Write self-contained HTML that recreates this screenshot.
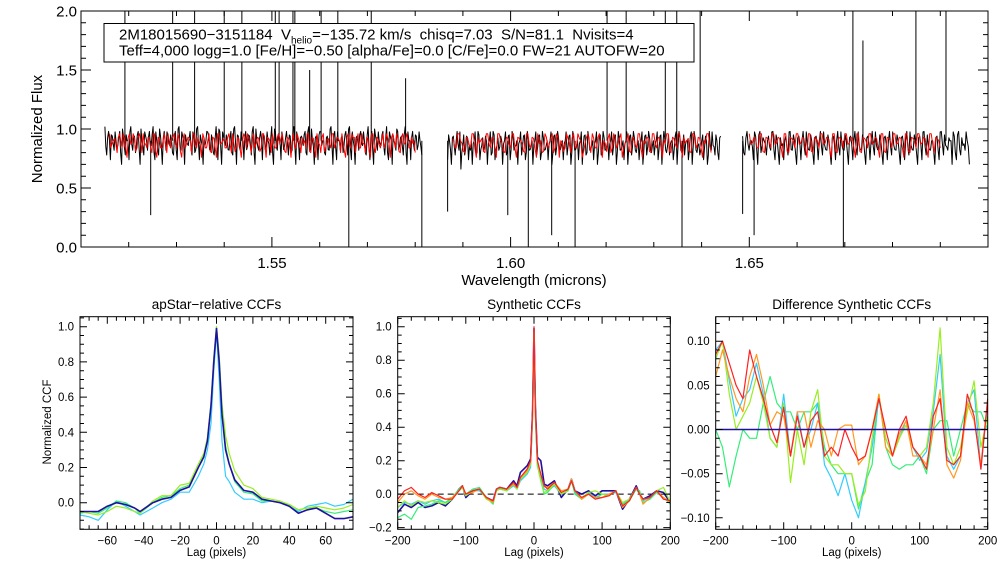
<!DOCTYPE html>
<html><head><meta charset="utf-8">
<style>
html,body{margin:0;padding:0;background:#fff;}
svg{display:block;font-family:"Liberation Sans",Arial,sans-serif;}
</style></head>
<body>
<svg id="fig" width="1008" height="576" viewBox="0 0 1008 576" xmlns="http://www.w3.org/2000/svg">
<rect x="0" y="0" width="1008" height="576" fill="#fff"/>
<g id="top"></g>
<g id="p1"></g>
<g id="p2"></g>
<g id="p3"></g>
</svg>
<script>
// ---------- spectrum data ----------
const chipStart = [1.5150, 1.5868, 1.6486];
const chipEnd   = [1.5814, 1.6440, 1.6961];
const blackDigits = [
"0617253418263705241836251407362815243617052834162507384125360718243516082537142608351724360815273416250837241605382714362508173524160738251436071825341607283514260837152436",
"7382615946275836174528361745283627154836271548362715473826154736281547382615473826154736281547382615473826154637281546372815463728154637281546372",
"2615372814362517384726153827164538271645382716453827164538271645382716453827164538271645382716453827164538"
];
const redStart = [1.5160, 1.5880, 1.6500];
const redEnd   = [1.5800, 1.6420, 1.6900];
const redDigits = [
"1325142613241534251624153214261325143624152613241534261425132416253412352614253415263514241325361425143526152413261425132435",
"2413524163251426135241623514263514251634251426315241632514263152416325142631524163251426315",
"1324152413261524132615241326152413261524132615241326152413261524"
];
const spikeW = [1.5192,1.5246,1.5292,1.5338,1.5400,1.5437,1.5507,1.5515,1.5544,1.5548,1.5579,1.5603,1.5638,1.5661,1.5708,1.5814,1.5994,1.6037,1.6086,1.6135,1.6202,1.6242,1.6324,1.6348,1.6359,1.6397,1.6486,1.6510,1.6697,1.6717,1.6738,1.6849,1.6912,1.5868,1.5780];
const spikeF = [2.0,0.27,2.0,2.0,2.0,2.0,2.0,2.0,2.0,2.0,1.5,2.0,2.0,0.0,2.0,0.0,0.27,0.0,0.1,0.0,2.0,2.0,2.0,2.0,0.0,2.0,0.28,0.1,0.0,2.0,1.75,2.0,2.0,0.3,1.43];

// ---------- CCF data ----------
const lag1 = [-75,-70,-65,-60,-55,-50,-45,-42,-35,-30,-25,-20,-15,-10,-7,-5,-3,-1.5,0,1.5,3,5,7,10,15,20,25,30,35,40,45,50,55,60,65,70,75];
const ccf1Navy = [-0.05,-0.05,-0.05,-0.02,0.0,-0.01,-0.03,-0.05,0.0,0.02,0.03,0.07,0.09,0.2,0.26,0.35,0.55,0.8,0.99,0.8,0.5,0.3,0.22,0.13,0.07,0.06,0.02,0.01,0.0,-0.02,-0.06,-0.04,-0.03,-0.06,-0.09,-0.09,-0.08];
const ccf1Cyan = [-0.07,-0.08,-0.1,-0.04,0.01,-0.02,-0.05,-0.07,-0.03,0.0,0.02,0.06,0.06,0.15,0.22,0.3,0.45,0.75,0.97,0.7,0.35,0.15,0.12,0.06,0.02,0.02,0.0,0.01,0.0,-0.02,-0.05,-0.02,-0.01,0.0,-0.02,-0.01,0.02];
const ccf1Green = [-0.06,-0.05,-0.06,-0.03,0.01,0.0,-0.03,-0.06,0.0,0.03,0.04,0.08,0.1,0.2,0.27,0.36,0.56,0.82,1.0,0.82,0.52,0.32,0.22,0.12,0.06,0.05,0.01,0.01,0.0,-0.01,-0.04,-0.03,-0.03,-0.05,-0.06,-0.05,-0.04];
const ccf1Lime = [-0.05,-0.06,-0.07,-0.05,-0.02,-0.03,-0.05,-0.06,0.01,0.04,0.04,0.1,0.11,0.22,0.28,0.37,0.57,0.83,1.0,0.84,0.56,0.38,0.28,0.18,0.1,0.08,0.03,0.02,0.01,-0.01,-0.04,-0.03,-0.02,-0.03,-0.04,-0.03,-0.01];

const lag2 = [-200,-190,-180,-170,-160,-150,-140,-130,-120,-110,-105,-100,-90,-80,-70,-60,-55,-50,-40,-30,-25,-20,-10,-5,-2,0,2,5,10,15,20,30,40,50,55,60,70,80,90,100,110,120,130,140,150,155,160,170,180,190,200];
const ccf2Red    = [-0.03,0.02,0.04,0.0,-0.02,0.01,-0.01,-0.03,-0.03,0.02,0.05,0.0,0.02,0.03,-0.02,-0.04,0.03,0.04,0.03,0.07,0.04,0.1,0.15,0.2,0.5,1.0,0.5,0.2,0.12,0.05,0.03,0.07,0.01,0.03,0.08,0.02,-0.02,0.0,-0.03,-0.02,-0.01,0.02,-0.07,-0.04,0.04,0.0,-0.03,-0.02,0.02,-0.03,-0.04];
const ccf2Orange = [-0.05,0.0,0.02,-0.01,-0.03,0.0,-0.02,-0.03,-0.02,0.02,0.05,0.0,0.01,0.03,-0.02,-0.05,0.03,0.04,0.03,0.06,0.04,0.1,0.14,0.19,0.48,0.98,0.5,0.2,0.12,0.05,0.04,0.07,0.02,0.03,0.09,0.02,-0.03,0.0,-0.02,-0.02,0.0,0.02,-0.08,-0.04,0.04,0.0,-0.06,-0.02,0.02,-0.02,-0.05];
const ccf2Cyan   = [-0.08,-0.05,-0.06,-0.04,-0.06,-0.04,-0.03,-0.05,-0.03,0.02,0.04,-0.01,0.02,0.02,-0.02,-0.05,0.03,0.03,0.02,0.05,0.03,0.08,0.12,0.16,0.45,0.95,0.45,0.17,0.1,0.03,0.02,0.05,0.0,0.02,0.08,0.01,-0.03,0.01,-0.02,0.0,0.0,0.01,-0.06,-0.03,0.03,0.0,-0.04,-0.02,0.01,-0.02,-0.05];
const ccf2Lime   = [-0.08,-0.04,-0.07,-0.04,-0.05,-0.04,-0.05,-0.06,-0.03,0.02,0.04,-0.01,0.02,0.03,-0.03,-0.05,0.02,0.03,0.02,0.06,0.03,0.09,0.13,0.18,0.47,0.97,0.47,0.18,0.08,0.01,0.02,0.06,0.0,0.02,0.09,0.02,-0.02,0.01,0.02,0.0,-0.01,0.02,-0.05,-0.03,0.04,0.0,-0.03,-0.02,0.02,0.04,-0.05];
const ccf2Green  = [-0.14,-0.12,-0.15,-0.08,-0.07,-0.06,-0.04,-0.05,-0.02,0.03,0.05,0.0,0.03,0.04,-0.02,-0.06,0.03,0.04,0.02,0.06,0.03,0.09,0.13,0.18,0.47,0.97,0.47,0.17,0.08,0.0,0.01,0.06,0.0,0.02,0.08,0.0,-0.03,0.0,-0.03,0.0,-0.01,0.02,-0.06,-0.04,0.03,0.02,-0.05,-0.03,0.01,-0.02,-0.06];
const ccf2Navy   = [-0.11,-0.06,-0.08,-0.05,-0.08,-0.07,-0.05,-0.07,-0.03,0.03,0.05,-0.02,0.02,0.03,-0.02,-0.04,0.03,0.04,0.03,0.08,0.05,0.13,0.17,0.21,0.5,0.99,0.52,0.22,0.2,0.06,0.05,0.08,-0.02,0.03,0.09,0.02,0.0,0.02,-0.01,0.02,0.02,0.02,-0.09,-0.03,0.05,0.0,-0.03,-0.01,0.02,0.01,-0.05];

const lag3 = [-200,-190,-180,-170,-160,-150,-140,-130,-120,-110,-100,-90,-80,-70,-60,-50,-40,-30,-20,-10,0,10,20,30,40,50,60,70,80,90,100,110,120,130,140,150,160,170,180,190,200];
const diffRed    = [0.085,0.1,0.075,0.05,0.035,0.09,0.06,0.035,0.005,-0.015,0.025,-0.03,0.015,-0.02,0.01,0.02,-0.03,-0.02,-0.03,0.0,-0.02,-0.035,-0.03,0.0,0.035,0.0,-0.03,0.0,0.015,-0.02,-0.03,-0.045,0.015,0.035,-0.035,-0.04,-0.03,0.04,0.015,-0.045,0.035];
const diffOrange = [0.06,0.09,0.06,0.035,0.02,0.06,0.085,0.05,0.005,0.02,0.015,-0.03,0.02,0.02,-0.02,0.01,0.0,-0.03,0.0,0.005,0.005,-0.04,-0.03,0.0,0.04,-0.02,-0.03,-0.005,0.01,-0.03,-0.03,-0.04,0.0,0.045,-0.04,-0.055,-0.035,0.03,0.01,-0.04,0.035];
const diffCyan   = [0.09,0.1,0.055,0.015,0.035,0.045,0.075,0.04,-0.01,-0.02,0.04,-0.03,0.02,-0.02,0.0,0.03,-0.04,-0.055,-0.075,-0.05,-0.08,-0.1,-0.06,-0.02,0.035,-0.01,-0.03,-0.01,0.01,-0.02,-0.035,-0.025,0.02,0.085,-0.03,-0.045,-0.03,0.03,0.045,-0.045,0.03];
const diffLime   = [0.08,0.1,0.04,0.0,0.015,0.03,0.06,0.03,-0.01,-0.02,0.03,-0.06,0.0,-0.04,0.02,0.045,-0.03,-0.04,-0.04,-0.05,-0.05,-0.085,-0.07,-0.01,0.04,-0.01,-0.03,-0.01,0.005,-0.02,-0.03,-0.02,0.03,0.115,-0.02,-0.04,-0.02,0.02,0.055,-0.02,0.015];
const diffGreen  = [0.0,-0.02,-0.065,-0.03,0.0,-0.01,-0.01,0.03,0.06,0.03,0.02,0.02,0.0,0.02,0.02,0.03,-0.02,-0.04,-0.05,-0.05,-0.05,-0.09,-0.06,-0.04,0.04,-0.02,-0.04,-0.045,-0.04,-0.04,-0.03,-0.05,0.0,0.01,0.01,-0.03,0.0,0.03,0.02,0.02,0.0];
const diffNavy   = lag3.map(()=>0);

const tickTop = ["1.55","1.60","1.65"];
const tickTopY = ["0.0","0.5","1.0","1.5","2.0"];
const tick1X = ["-60","-40","-20","0","20","40","60"];
const tick1Y = ["0.0","0.2","0.4","0.6","0.8","1.0"];
const tick2X = ["-200","-100","0","100","200"];
const tick2Y = ["-0.2","0.0","0.2","0.4","0.6","0.8","1.0"];
const tick3Y = ["-0.10","-0.05","0.00","0.05","0.10"];

// ---------- helpers ----------
const NS="http://www.w3.org/2000/svg";
function mk(parent,tag,attrs,text){const e=document.createElementNS(NS,tag);for(const k in attrs)e.setAttribute(k,attrs[k]);if(text!==undefined)e.textContent=text;parent.appendChild(e);return e;}
function scale(d0,d1,r0,r1){return v=>r0+(v-d0)*(r1-r0)/(d1-d0);}
function num(s){return parseFloat(s.replace("\u2212","-"));}
function lbl(s){return s.replace("-","\u2212");}

function drawAxes(g,box,xs,ys,xMaj,xMin,yMaj,yMin,xr,yr,fs,majL,minL){
  mk(g,"rect",{x:box.x0,y:box.y0,width:box.x1-box.x0,height:box.y1-box.y0,fill:"none",stroke:"#000","stroke-width":1});
  let p="";
  for(let v=Math.ceil(xr[0]/xMin-1e-6)*xMin; v<=xr[1]+1e-9; v+=xMin){
    const X=xs(v).toFixed(1); const maj=Math.abs(v/xMaj-Math.round(v/xMaj))<1e-6; const L=maj?majL:minL;
    p+=`M${X},${box.y1}v${-L}M${X},${box.y0}v${L}`;
  }
  for(let v=Math.ceil(yr[0]/yMin-1e-6)*yMin; v<=yr[1]+1e-9; v+=yMin){
    const Y=ys(v).toFixed(1); const maj=Math.abs(v/yMaj-Math.round(v/yMaj))<1e-6; const L=maj?majL:minL;
    p+=`M${box.x0},${Y}h${L}M${box.x1},${Y}h${-L}`;
  }
  const t=mk(g,"path",{d:p,stroke:"#000","stroke-width":1,fill:"none"});
  
  
}
function line(g,xa,ya,xs,ys,color,w,name){
  const d=xa.map((x,i)=>(i?"L":"M")+xs(x).toFixed(1)+","+ys(ya[i]).toFixed(1)).join("");
  const e=mk(g,"path",{d:d,stroke:color,"stroke-width":w,fill:"none","stroke-linejoin":"round"});
  
  
  return e;
}

// ---------- top spectrum ----------
(function(){
  const g=document.getElementById("top");
  const box={x0:81,x1:988,y0:11,y1:247};
  const xs=scale(1.51,1.70,box.x0,box.x1), ys=scale(0,2,box.y1,box.y0);
  const clip=mk(g,"clipPath",{id:"ctop"}); mk(clip,"rect",{x:box.x0,y:box.y0,width:box.x1-box.x0,height:box.y1-box.y0});
  const dg=mk(g,"g",{"clip-path":"url(#ctop)"});
  for(let c=0;c<3;c++){
    const s=blackDigits[c], n=s.length;
    const wx=[],fy=[];
    const dw=(chipEnd[c]-chipStart[c])/(n-1);
    for(let i=0;i<n;i++){
      const w0=chipStart[c]+dw*i;
      wx.push(w0);fy.push(1.02-(+s[i])*0.04);
      if(i<n-1){wx.push(w0+dw/2);fy.push(1.0-(+s[n-1-i])*0.025);}
    }
    line(dg,wx,fy,xs,ys,"#000",1,"observed-spectrum-chip-"+(c+1));
  }
  for(let i=0;i<spikeW.length;i++){
    const e=mk(dg,"line",{x1:xs(spikeW[i]),x2:xs(spikeW[i]),y1:ys(0.9),y2:ys(spikeF[i]),stroke:"#000","stroke-width":1});
    
    
  }
  for(let c=0;c<3;c++){
    const s=redDigits[c], n=s.length;
    const wx=[],fy=[];
    const dw=(redEnd[c]-redStart[c])/(n-1);
    for(let i=0;i<n;i++){
      const w0=redStart[c]+dw*i;
      wx.push(w0);fy.push(1.0-(+s[i])*0.04);
      if(i<n-1){wx.push(w0+dw/2);fy.push(0.99-(+s[n-1-i])*0.03);}
    }
    line(dg,wx,fy,xs,ys,"#ff0000",1,"model-spectrum-chip-"+(c+1));
  }
  drawAxes(g,box,xs,ys,0.05,0.01,0.5,0.1,[1.51,1.70],[0,2],15,10,5);
  tickTop.forEach(t=>{const e=mk(g,"text",{x:xs(num(t)),y:268,"font-size":15,"text-anchor":"middle"},t);});
  tickTopY.forEach(t=>{const e=mk(g,"text",{x:77,y:ys(num(t))+5.5,"font-size":15,"text-anchor":"end"},t);});
  let e=mk(g,"text",{x:534,y:285,"font-size":15,"text-anchor":"middle"},"Wavelength (microns)");
  
  e=mk(g,"text",{x:0,y:0,"font-size":15,"text-anchor":"middle",transform:"translate(42,129) rotate(-90)"},"Normalized Flux");
  
  const lg=mk(g,"g",{});
  
  mk(lg,"rect",{x:104,y:23.5,width:590,height:38.5,fill:"#fff",stroke:"#000","stroke-width":1});
  const t1=mk(lg,"text",{x:119,y:39.5,"font-size":15});
  t1.innerHTML='2M18015690\u22123151184  V<tspan font-size="10" dy="4">helio</tspan><tspan dy="-4">=\u2212135.72 km/s  chisq=7.03  S/N=81.1  Nvisits=4</tspan>';
  t1.style.whiteSpace="pre";
  mk(lg,"text",{x:119,y:55.5,"font-size":15},"Teff=4,000 logg=1.0 [Fe/H]=\u22120.50 [alpha/Fe]=0.0 [C/Fe]=0.0 FW=21 AUTOFW=20");
})();

// ---------- CCF panels ----------
function panel(id,box,xr,yr,xMaj,xMin,yMaj,yMin,xt,yt,title,series,dash){
  const g=document.getElementById(id);
  const xs=scale(xr[0],xr[1],box.x0,box.x1), ys=scale(yr[0],yr[1],box.y1,box.y0);
  const cid="c"+id; const clip=mk(g,"clipPath",{id:cid}); mk(clip,"rect",{x:box.x0,y:box.y0,width:box.x1-box.x0,height:box.y1-box.y0});
  const dg=mk(g,"g",{"clip-path":`url(#${cid})`});
  if(dash){const e=mk(dg,"line",{x1:box.x0,x2:box.x1,y1:ys(0),y2:ys(0),stroke:"#000","stroke-dasharray":"6,4","stroke-width":1});}
  series.forEach(s=>line(dg,s.x,s.y,xs,ys,s.c,s.w||1.2,s.n));
  drawAxes(g,box,xs,ys,xMaj,xMin,yMaj,yMin,xr,yr,11,7,4);
  xt.forEach(t=>{const e=mk(g,"text",{x:xs(num(t)),y:box.y1+15,"font-size":11.5,"text-anchor":"middle"},lbl(t));});
  yt.forEach(t=>{const e=mk(g,"text",{x:box.x0-6,y:ys(num(t))+4,"font-size":11.5,"text-anchor":"end"},lbl(t));});
  let e=mk(g,"text",{x:(box.x0+box.x1)/2,y:309,"font-size":13.5,"text-anchor":"middle"},title);
  
  e=mk(g,"text",{x:(box.x0+box.x1)/2,y:556,"font-size":11.5,"text-anchor":"middle"},"Lag (pixels)");
  
  return g;
}
const NAVY="#2010a0",CYAN="#33ccff",GREEN="#33ee77",LIME="#99ee22",ORANGE="#ff9922",RED="#ff2020";
const g1=panel("p1",{x0:80,x1:353,y0:316.7,y1:529.3},[-75,75],[-0.151,1.057],20,5,0.2,0.05,tick1X,tick1Y,"apStar\u2212relative CCFs",[
  {x:lag1,y:ccf1Cyan,c:CYAN,n:"ccf1-cyan"},{x:lag1,y:ccf1Green,c:GREEN,n:"ccf1-green"},{x:lag1,y:ccf1Lime,c:LIME,n:"ccf1-lime"},{x:lag1,y:ccf1Navy,c:NAVY,w:1.6,n:"ccf1-navy"}],false);
let yt1=mk(g1,"text",{x:0,y:0,"font-size":11.5,"text-anchor":"middle",transform:"translate(51,422) rotate(-90)"},"Normalized CCF");

panel("p2",{x0:397.7,x1:670.3,y0:316.7,y1:529.3},[-200,200],[-0.21,1.06],100,20,0.2,0.05,tick2X,tick2Y,"Synthetic CCFs",[
  {x:lag2,y:ccf2Navy,c:NAVY,w:1.6,n:"ccf2-navy"},{x:lag2,y:ccf2Cyan,c:CYAN,n:"ccf2-cyan"},{x:lag2,y:ccf2Green,c:GREEN,n:"ccf2-green"},{x:lag2,y:ccf2Lime,c:LIME,n:"ccf2-lime"},{x:lag2,y:ccf2Orange,c:ORANGE,n:"ccf2-orange"},{x:lag2,y:ccf2Red,c:RED,n:"ccf2-red"}],true);
panel("p3",{x0:715.7,x1:987.7,y0:316.7,y1:529.3},[-200,200],[-0.113,0.1277],100,20,0.05,0.01,tick2X,tick3Y,"Difference Synthetic CCFs",[
  {x:lag3,y:diffGreen,c:GREEN,n:"diff-green"},{x:lag3,y:diffCyan,c:CYAN,n:"diff-cyan"},{x:lag3,y:diffLime,c:LIME,n:"diff-lime"},{x:lag3,y:diffOrange,c:ORANGE,n:"diff-orange"},{x:lag3,y:diffRed,c:RED,n:"diff-red"},{x:lag3,y:diffNavy,c:NAVY,w:1.6,n:"diff-navy"}],false);
</script>
</body></html>
